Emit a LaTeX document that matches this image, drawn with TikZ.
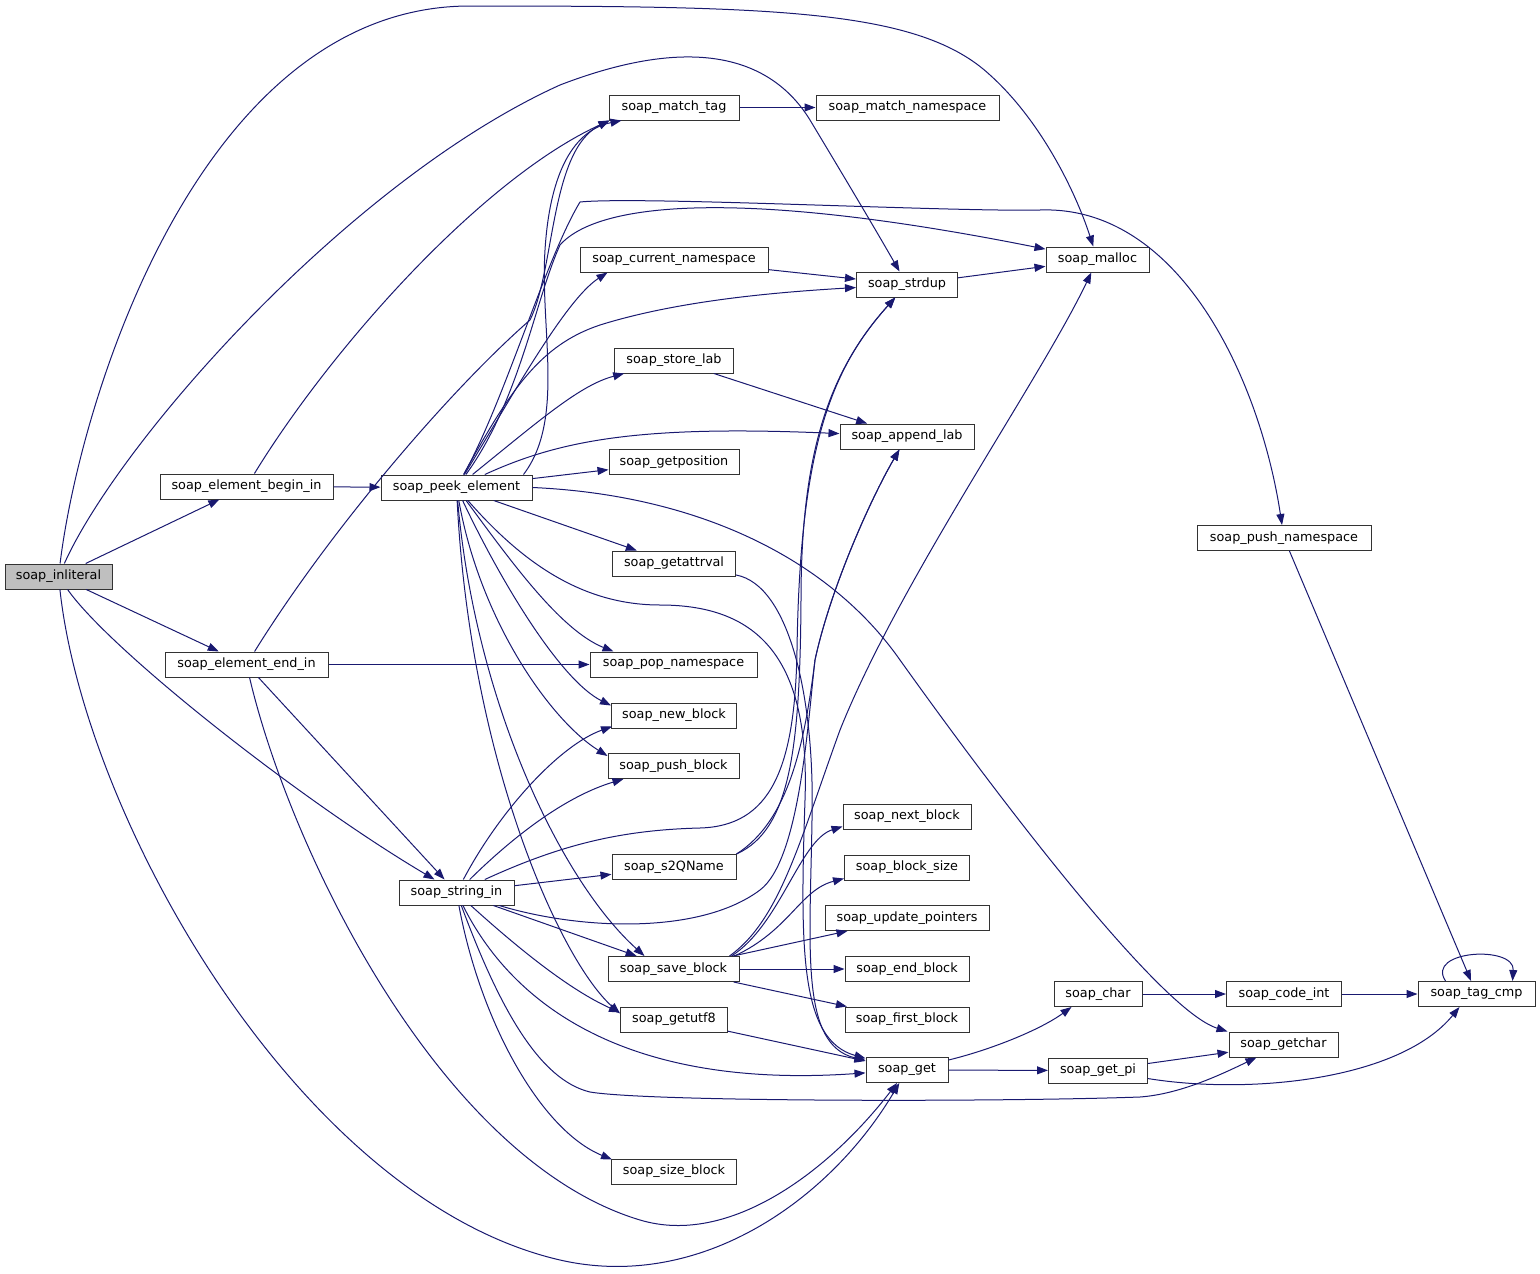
\documentclass[tikz,border=0pt]{standalone}
\usepackage{fontspec}
\setmainfont{DejaVu Sans}
\usetikzlibrary{arrows.meta}
\definecolor{navy}{HTML}{191970}
\begin{document}
\begin{tikzpicture}[x=1pt,y=-1pt,
  box/.style={draw=black!80, line width=1pt, fill=white, inner sep=0pt, minimum height=25pt, font=\fontsize{12.8}{15}\selectfont},
  conn/.style={draw=navy, line width=1pt, -{Triangle[length=11pt,width=8pt]}}]
\useasboundingbox (0,0) rectangle (1540,1274);
% nodes
\node[box, fill=black!25, minimum width=107pt] (inl) at (58.5,576.5) {soap\_inliteral};
\node[box, minimum width=173pt] (bgn) at (246.5,486.5) {soap\_element\_begin\_in};
\node[box, minimum width=163pt] (endin) at (246.5,664.5) {soap\_element\_end\_in};
\node[box, minimum width=115pt] (strin) at (456.5,892.5) {soap\_string\_in};
\node[box, minimum width=151pt] (peek) at (456.5,487.5) {soap\_peek\_element};
\node[box, minimum width=130pt] (mtag) at (674,107.5) {soap\_match\_tag};
\node[box, minimum width=183pt] (mns) at (907.5,107.5) {soap\_match\_namespace};
\node[box, minimum width=188pt] (curns) at (674,259.5) {soap\_current\_namespace};
\node[box, minimum width=101pt] (strdup) at (907,284.5) {soap\_strdup};
\node[box, minimum width=103pt] (malloc) at (1097.5,259.5) {soap\_malloc};
\node[box, minimum width=119pt] (store) at (674,360.5) {soap\_store\_lab};
\node[box, minimum width=134pt] (append) at (907,436.5) {soap\_append\_lab};
\node[box, minimum width=130pt] (getpos) at (674,462) {soap\_getposition};
\node[box, minimum width=123pt] (getattr) at (674,563.5) {soap\_getattrval};
\node[box, minimum width=174pt] (pushns) at (1284,538) {soap\_push\_namespace};
\node[box, minimum width=167pt] (popns) at (673.5,664.5) {soap\_pop\_namespace};
\node[box, minimum width=125pt] (newb) at (674,715.5) {soap\_new\_block};
\node[box, minimum width=131pt] (pushb) at (673.5,766) {soap\_push\_block};
\node[box, minimum width=128pt] (nextb) at (907,816.5) {soap\_next\_block};
\node[box, minimum width=124pt] (s2q) at (674,867) {soap\_s2QName};
\node[box, minimum width=125pt] (bsize) at (907,867.5) {soap\_block\_size};
\node[box, minimum width=164pt] (updp) at (907,918) {soap\_update\_pointers};
\node[box, minimum width=131pt] (saveb) at (673.5,969) {soap\_save\_block};
\node[box, minimum width=124pt] (endb) at (907,969) {soap\_end\_block};
\node[box, minimum width=124pt] (firstb) at (907,1019.5) {soap\_first\_block};
\node[box, minimum width=107pt] (utf8) at (674,1019.5) {soap\_getutf8};
\node[box, minimum width=82pt] (get) at (907,1070) {soap\_get};
\node[box, minimum width=125pt] (sizeb) at (674,1171.5) {soap\_size\_block};
\node[box, minimum width=88pt] (char) at (1098,994) {soap\_char};
\node[box, minimum width=115pt] (codeint) at (1284,994) {soap\_code\_int};
\node[box, minimum width=117pt] (tagcmp) at (1476.5,994) {soap\_tag\_cmp};
\node[box, minimum width=109pt] (getchar) at (1283.5,1044.5) {soap\_getchar};
\node[box, minimum width=99pt] (getpi) at (1098,1070.5) {soap\_get\_pi};
% connectors
\begin{scope}[every path/.style={conn}]
% soap_inliteral
\draw (inl) -- (bgn);
\draw (inl) -- (endin);
\draw (inl) .. controls (110,650) and (300,800) .. (strin);
\draw (inl) .. controls (85,820) and (300,1200) .. (560,1260) .. controls (700,1292) and (830,1200) .. (get);
\draw (inl) .. controls (80,400) and (200,6) .. (470,6) .. controls (780,6) and (920,10) .. (990,75) .. controls (1040,120) and (1075,190) .. (malloc);
\draw (inl) .. controls (120,440) and (350,180) .. (560,85) .. controls (690,35) and (770,55) .. (810,120) .. controls (840,170) and (870,220) .. (strdup);
% soap_element_begin_in
\draw (bgn) -- (peek);
\draw (bgn) .. controls (330,350) and (480,180) .. ([xshift=1pt]mtag.south west);
% soap_element_end_in
\draw (endin) -- (popns);
\draw (endin) -- (strin);
\draw (endin) .. controls (290,850) and (440,1160) .. (640,1220) .. controls (730,1247) and (830,1170) .. (get);
\draw (endin) .. controls (330,530) and (450,390) .. (530,320) .. controls (555,270) and (550,150) .. ([xshift=1pt]mtag.south west);
% soap_peek_element
\draw ([xshift=-9pt]peek.north east) .. controls (565,420) and (540,330) .. (545,250) .. controls (550,170) and (575,130) .. ([xshift=13pt]mtag.south west);
\draw (peek) .. controls (505,400) and (545,260) .. (580,202) .. controls (640,196) and (950,212) .. (1040,210) .. controls (1180,205) and (1260,380) .. (pushns);
\draw (peek) .. controls (510,400) and (565,300) .. ([xshift=28pt]curns.south west);
\draw (peek) .. controls (510,390) and (540,345) .. (600,325) .. controls (680,300) and (780,292) .. (strdup);
\draw (peek) .. controls (520,400) and (535,300) .. (560,245) .. controls (600,200) and (750,190) .. (malloc);
\draw (peek) .. controls (540,420) and (580,385) .. (store);
\draw (peek) .. controls (560,440) and (640,425) .. (append);
\draw (peek) -- (getpos);
\draw (peek.east) .. controls (700,495) and (830,560) .. (900,660) .. controls (1000,800) and (1160,1010) .. ([xshift=-1pt]getchar.north west);
\draw (peek) -- (getattr);
\draw (peek) .. controls (510,560) and (560,630) .. ([xshift=24pt]popns.north west);
\draw (peek) .. controls (500,580) and (560,680) .. ([yshift=-3pt]newb.north west);
\draw (peek) .. controls (480,620) and (550,720) .. ([yshift=-3pt]pushb.north west);
\draw (peek) .. controls (475,700) and (560,880) .. ([xshift=37pt]saveb.north west);
\draw (peek) .. controls (470,760) and (560,960) .. ([yshift=-7pt]utf8.north west);
\draw (peek) .. controls (520,560) and (580,605) .. (660,605) .. controls (760,605) and (810,660) .. (805,800) .. controls (800,950) and (800,1040) .. (get);
% soap_getattrval
\draw (getattr) .. controls (790,585) and (815,700) .. (812,820) .. controls (810,950) and (800,1045) .. (get);
% soap_string_in
\draw (strin) .. controls (560,845) and (620,830) .. (700,828) .. controls (770,826) and (795,770) .. (797,650) .. controls (800,450) and (830,370) .. (strdup);
\draw (strin) .. controls (580,930) and (700,935) .. (760,890) .. controls (800,860) and (808,720) .. (815,660) .. controls (830,590) and (870,500) .. (append);
\draw (strin) .. controls (500,810) and (560,745) .. ([xshift=1pt,yshift=2pt]newb.south west);
\draw (strin) .. controls (520,830) and (570,795) .. ([xshift=16pt]pushb.south west);
\draw (strin) -- (s2q);
\draw (strin) -- (saveb);
\draw (strin) .. controls (520,950) and (570,990) .. ([yshift=-6pt]utf8.north west);
\draw (strin) .. controls (510,1000) and (620,1090) .. (get);
\draw (strin) .. controls (500,1010) and (540,1080) .. (590,1092) .. controls (650,1102) and (1000,1102) .. (1140,1097) .. controls (1180,1094) and (1220,1075) .. (getchar);
\draw (strin) .. controls (480,1020) and (540,1130) .. ([xshift=1pt,yshift=-1pt]sizeb.north west);
% soap_s2QName
\draw (s2q.north east) .. controls (790,830) and (800,750) .. (801,600) .. controls (801,450) and (830,370) .. (strdup);
\draw (s2q.north east) .. controls (790,820) and (805,740) .. (815,660) .. controls (830,590) and (870,500) .. (append);
% soap_save_block
\draw ([xshift=-10pt]saveb.north east) .. controls (780,920) and (800,840) .. (840,730) .. controls (900,580) and (1040,380) .. (malloc);
\draw ([xshift=-8pt]saveb.north east) .. controls (780,925) and (800,840) .. ([yshift=3pt]nextb.south west);
\draw ([xshift=-5pt]saveb.north east) .. controls (790,930) and (800,890) .. ([yshift=2pt]bsize.south west);
\draw (saveb) -- (updp);
\draw (saveb) -- (endb);
\draw (saveb) -- (firstb);
% others
\draw (mtag) -- (mns);
\draw (curns) -- (strdup);
\draw (strdup) -- (malloc);
\draw (store) -- (append);
\draw (utf8) -- (get);
\draw (get) -- (getpi);
\draw (get) .. controls (990,1050) and (1040,1030) .. ([xshift=18pt]char.south west);
\draw (getpi) -- (getchar);
\draw (getpi) .. controls (1250,1095) and (1400,1080) .. ([xshift=-17pt]tagcmp.south);
\draw (char) -- (codeint);
\draw (codeint) -- (tagcmp);
\draw (pushns) -- (tagcmp);
\draw ([xshift=-31pt]tagcmp.north) .. controls (1425,950) and (1515,945) .. ([xshift=36pt]tagcmp.north);
\end{scope}
\end{tikzpicture}
\end{document}
